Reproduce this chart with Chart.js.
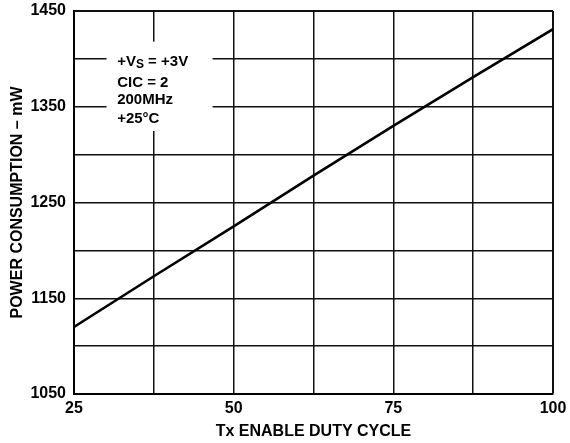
<!DOCTYPE html>
<html>
<head>
<meta charset="utf-8">
<script src="https://cdn.jsdelivr.net/npm/chart.js@4/dist/chart.umd.min.js"></script>
<style>
  html, body { margin: 0; padding: 0; background: #fff; }
</style>
</head>
<body>
<canvas id="powerChart" width="570" height="443"></canvas>
<script>
// values
var dutyCycle = [25, 37.5, 50, 62.5, 75, 87.5, 100];
var powerMw = [1120, 1173, 1225, 1278, 1330, 1381, 1431];

var xTickLabels = [25, 50, 75, 100];
var yTickLabels = [1050, 1150, 1250, 1350, 1450];
var noteLines = ['CIC = 2', '200MHz', '+25°C'];

var FONT = "'Liberation Sans', Arial, sans-serif";
var FS = 16;

// white box with the test conditions
var notePlugin = {
    id: 'note',
    beforeDatasetsDraw: function (chart) {
        var xs = chart.scales.x, ys = chart.scales.y, ctx = chart.ctx;
        var left = xs.getPixelForValue(30.1), right = xs.getPixelForValue(46.7);
        var top = ys.getPixelForValue(1418), bottom = ys.getPixelForValue(1324.7);
        ctx.save();
        ctx.fillStyle = '#fff';
        ctx.fillRect(left, top, right - left, bottom - top);
        ctx.fillStyle = '#000';
        ctx.textBaseline = 'alphabetic';
        ctx.textAlign = 'left';
        var tx = left + 10.6, by = top + 24.3;
        ctx.font = 'bold 15px ' + FONT;
        ctx.fillText('+V', tx, by);
        var w1 = ctx.measureText('+V').width;
        ctx.font = 'bold 12px ' + FONT;
        ctx.fillText('S', tx + w1, by + 2);
        var w2 = ctx.measureText('S').width;
        ctx.font = 'bold 15px ' + FONT;
        ctx.fillText(' = +3V', tx + w1 + w2, by);
        var offs = [45, 62.3, 81];
        noteLines.forEach(function (t, i) {
            ctx.fillText(t, tx, top + offs[i]);
        });
        ctx.restore();
    }
};

var ctx = document.getElementById('powerChart').getContext('2d');
var powerChart = new Chart(ctx, {
    type: 'line',
    data: {
        datasets: [{
            label: 'Power',
            data: dutyCycle.map(function (d, i) { return {x: d, y: powerMw[i]}; }),
            borderColor: '#000',
            borderWidth: 2.6,
            pointRadius: 0,
            tension: 0,
            fill: false
        }]
    },
    options: {
        responsive: false,
        animation: false,
        layout: { padding: { left: 0, top: 11, right: 17, bottom: 0 } },
        plugins: {
            legend: { display: false },
            tooltip: { enabled: false }
        },
        scales: {
            x: {
                type: 'linear',
                min: 25,
                max: 100,
                afterFit: function (s) { s.height = 49; s.paddingLeft = 0; s.paddingRight = 0; },
                ticks: {
                    stepSize: 12.5,
                    padding: 5,
                    color: '#000',
                    font: { family: FONT, size: FS, weight: 'bold' },
                    maxRotation: 0,
                    autoSkip: false,
                    callback: function (v) { return xTickLabels.indexOf(v) >= 0 ? String(v) : ''; }
                },
                grid: {
                    color: '#111',
                    lineWidth: function (c) { return c.tick && c.tick.value === 100 ? 2 : 1.5; },
                    drawTicks: false
                },
                border: { color: '#000', width: 2 },
                title: {
                    display: true,
                    text: 'Tx ENABLE DUTY CYCLE',
                    color: '#000',
                    font: { family: FONT, size: FS, weight: 'bold' },
                    padding: { top: 0, bottom: 1.5 }
                }
            },
            y: {
                min: 1050,
                max: 1450,
                afterFit: function (s) { s.width = 74; s.paddingTop = 0; s.paddingBottom = 0; },
                ticks: {
                    stepSize: 50,
                    padding: 8,
                    color: '#000',
                    font: { family: FONT, size: FS, weight: 'bold' },
                    autoSkip: false,
                    callback: function (v) { return yTickLabels.indexOf(v) >= 0 ? String(v) : ''; }
                },
                grid: {
                    color: '#111',
                    lineWidth: function (c) { return c.tick && c.tick.value === 1450 ? 2 : 1.5; },
                    drawTicks: false
                },
                border: { color: '#000', width: 2 },
                title: {
                    display: true,
                    text: 'POWER CONSUMPTION – mW',
                    color: '#000',
                    font: { family: FONT, size: FS, weight: 'bold' },
                    padding: { top: 8, bottom: 0 }
                }
            }
        }
    },
    plugins: [notePlugin]
});
</script>
</body>
</html>
